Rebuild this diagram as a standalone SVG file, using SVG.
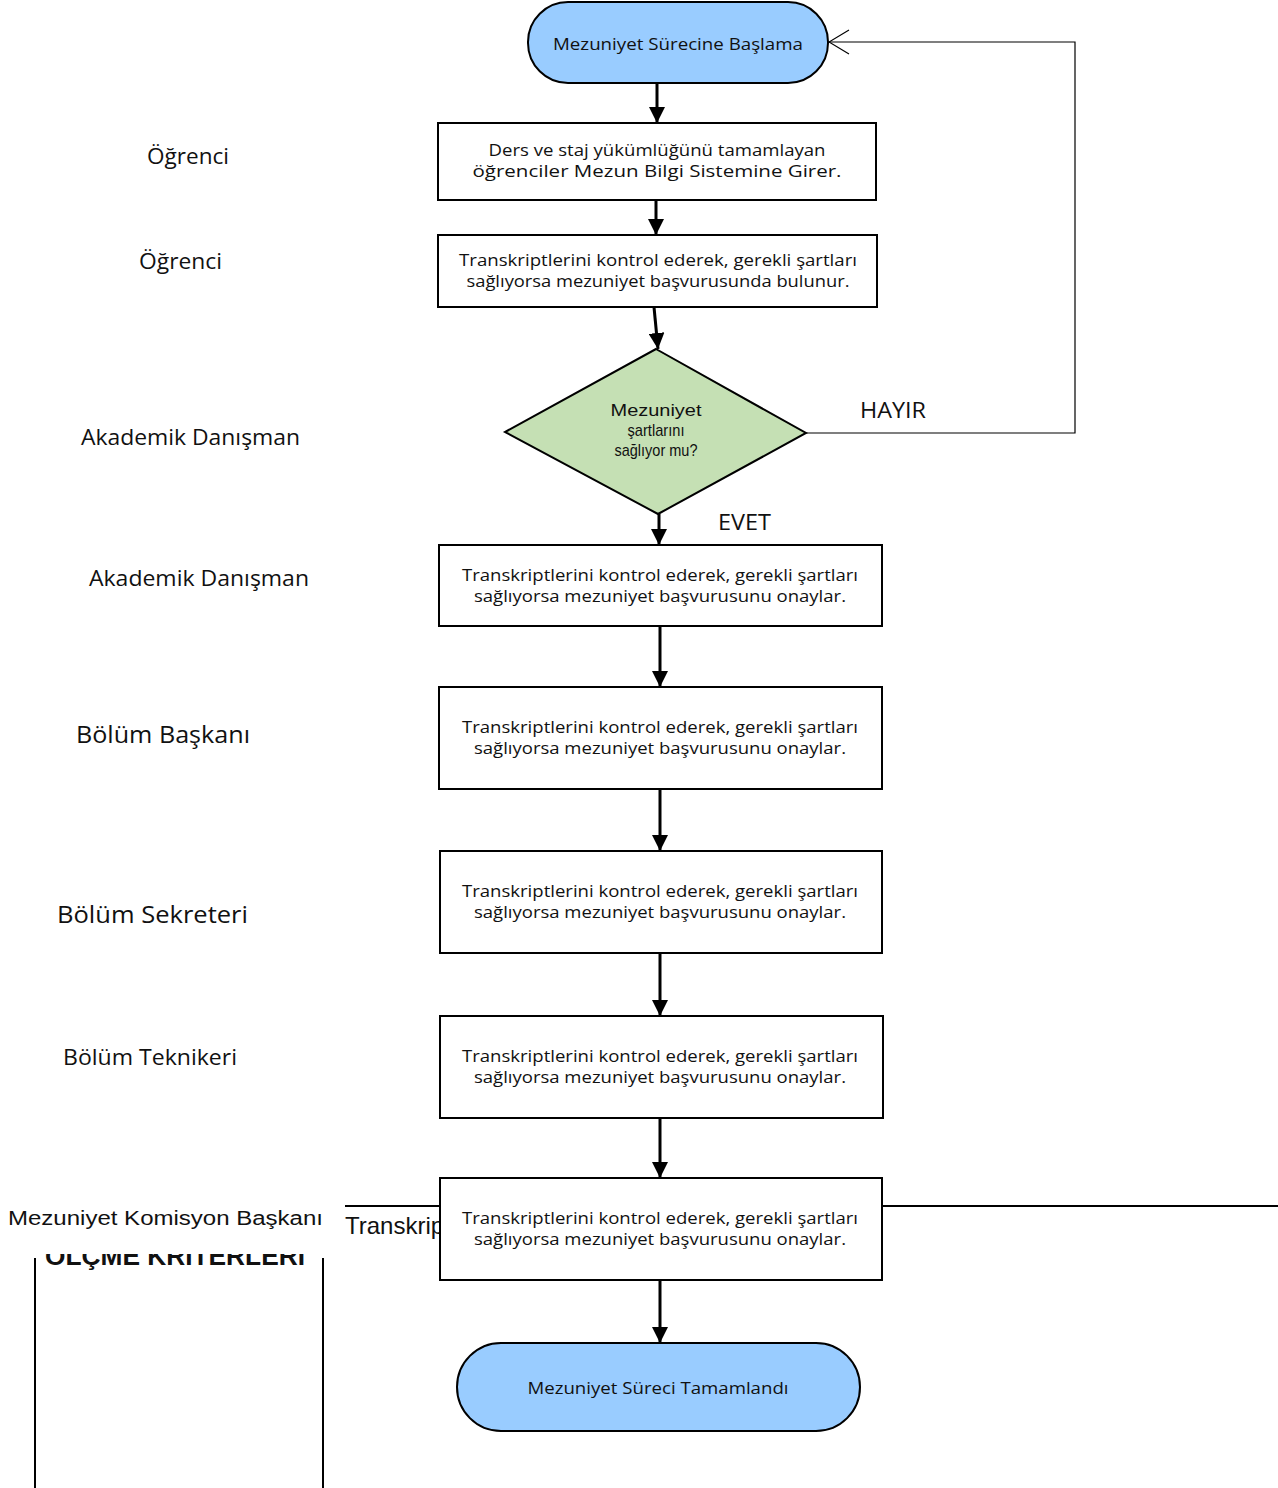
<svg xmlns="http://www.w3.org/2000/svg" width="1278" height="1488" viewBox="0 0 1278 1488">
<style>
.bg{fill:#ffffff}
.term{fill:#99ccff;stroke:#000;stroke-width:2}
.box{fill:#ffffff;stroke:#000;stroke-width:2}
.dia{fill:#c5e0b4;stroke:#000;stroke-width:2}
.t{font-family:"Open Sans","Noto Sans","Liberation Sans",sans-serif;font-size:16px;fill:#111;text-anchor:middle}
.dt{font-family:"Liberation Sans",Arial,sans-serif;font-size:17px;fill:#111;text-anchor:middle}
.lbl{font-family:"Open Sans","Noto Sans","Liberation Sans",sans-serif;font-size:21px;fill:#111}
.ar{font-family:"Liberation Sans",Arial,sans-serif;font-size:20px;fill:#111}
.yn{font-family:"Open Sans","Noto Sans",sans-serif;font-size:21px;fill:#111}
.conn{stroke:#000;stroke-width:3;fill:none}
.thin{stroke:#000;stroke-width:1.2;fill:none}
</style>
<defs>
<marker id="ah" markerUnits="userSpaceOnUse" markerWidth="16" markerHeight="16" viewBox="0 0 16 16" refX="16" refY="8" orient="auto">
<path d="M0,0 L16,8 L0,16 Z" fill="#000"/>
</marker>
<marker id="open" markerUnits="userSpaceOnUse" markerWidth="22" markerHeight="26" viewBox="0 0 22 26" refX="21" refY="13" orient="auto">
<path d="M1,1 L21,13 L1,25" fill="none" stroke="#000" stroke-width="1.2"/>
</marker>
<clipPath id="clipOlc"><rect x="0" y="1254" width="340" height="40"/></clipPath>
<clipPath id="clipTr"><rect x="330" y="1200" width="109" height="50"/></clipPath>
</defs>
<rect class="bg" x="0" y="0" width="1278" height="1488"/>

<g id="background-table">
<line x1="345" y1="1206" x2="440" y2="1206" stroke="#000" stroke-width="2"/>
<line x1="882" y1="1206" x2="1278" y2="1206" stroke="#000" stroke-width="2"/>
<text class="ar" x="345" y="1234" style="font-size:24px" clip-path="url(#clipTr)">Transkrip</text>
<line x1="35" y1="1258" x2="35" y2="1488" stroke="#000" stroke-width="2"/>
<line x1="323" y1="1258" x2="323" y2="1488" stroke="#000" stroke-width="2"/>
<text clip-path="url(#clipOlc)" x="45" y="1265" font-family="Liberation Sans,Arial,sans-serif" font-weight="bold" font-size="26" fill="#111" textLength="260" lengthAdjust="spacingAndGlyphs">ÖLÇME KRİTERLERİ</text>
</g>

<g id="lane-labels">
<text class="lbl" x="147" y="164" textLength="82" lengthAdjust="spacingAndGlyphs">Öğrenci</text>
<text class="lbl" x="139" y="269" textLength="83" lengthAdjust="spacingAndGlyphs">Öğrenci</text>
<text class="lbl" x="81" y="445" textLength="219" lengthAdjust="spacingAndGlyphs">Akademik Danışman</text>
<text class="lbl" x="89" y="586" textLength="220" lengthAdjust="spacingAndGlyphs">Akademik Danışman</text>
<text class="lbl" x="76" y="743" style="font-size:23px" textLength="174" lengthAdjust="spacingAndGlyphs">Bölüm Başkanı</text>
<text class="lbl" x="57" y="923" style="font-size:23px" textLength="191" lengthAdjust="spacingAndGlyphs">Bölüm Sekreteri</text>
<text class="lbl" x="63" y="1065" textLength="174" lengthAdjust="spacingAndGlyphs">Bölüm Teknikeri</text>
<text class="ar" x="8" y="1225" textLength="315" lengthAdjust="spacingAndGlyphs">Mezuniyet Komisyon Başkanı</text>
</g>

<g id="connectors">
<line class="conn" x1="657" y1="84" x2="657" y2="123" marker-end="url(#ah)"/>
<line class="conn" x1="656" y1="200" x2="656" y2="235" marker-end="url(#ah)"/>
<line class="conn" x1="654" y1="307" x2="658" y2="349" marker-end="url(#ah)"/>
<line class="conn" x1="659" y1="514" x2="659" y2="545" marker-end="url(#ah)"/>
<line class="conn" x1="660" y1="626" x2="660" y2="687" marker-end="url(#ah)"/>
<line class="conn" x1="660" y1="789" x2="660" y2="851" marker-end="url(#ah)"/>
<line class="conn" x1="660" y1="953" x2="660" y2="1016" marker-end="url(#ah)"/>
<line class="conn" x1="660" y1="1118" x2="660" y2="1178" marker-end="url(#ah)"/>
<line class="conn" x1="660" y1="1280" x2="660" y2="1343" marker-end="url(#ah)"/>
<polyline class="thin" points="806,433 1075,433 1075,42 829,42" marker-end="url(#open)"/>
<text class="yn" x="860" y="418" textLength="66" lengthAdjust="spacingAndGlyphs">HAYIR</text>
<text class="yn" x="718" y="530" textLength="53" lengthAdjust="spacingAndGlyphs">EVET</text>
</g>

<g id="start">
<rect class="term" x="528" y="2" width="300" height="81" rx="40" ry="40"/>
<text class="t" x="678" y="50" style="font-size:17px" textLength="250" lengthAdjust="spacingAndGlyphs">Mezuniyet Sürecine Başlama</text>
</g>

<g id="step1">
<rect class="box" x="438" y="123" width="438" height="77"/>
<text class="t" x="657" y="156" textLength="337" lengthAdjust="spacingAndGlyphs">Ders ve staj yükümlüğünü tamamlayan</text>
<text class="t" x="657" y="177" textLength="369" lengthAdjust="spacingAndGlyphs">öğrenciler  Mezun Bilgi Sistemine Girer.</text>
</g>

<g id="step2">
<rect class="box" x="438" y="235" width="439" height="72"/>
<text class="t" x="658" y="266" textLength="398" lengthAdjust="spacingAndGlyphs">Transkriptlerini kontrol ederek, gerekli şartları</text>
<text class="t" x="658" y="287" textLength="383" lengthAdjust="spacingAndGlyphs">sağlıyorsa mezuniyet başvurusunda bulunur.</text>
</g>

<g id="decision">
<polygon class="dia" points="656,349 806,433 658,514 505,432"/>
<text class="dt" x="656" y="416" textLength="91" lengthAdjust="spacingAndGlyphs">Mezuniyet</text>
<text class="dt" x="656" y="436" textLength="57" lengthAdjust="spacingAndGlyphs">şartlarını</text>
<text class="dt" x="656" y="456" textLength="83" lengthAdjust="spacingAndGlyphs">sağlıyor mu?</text>
</g>

<g id="step3">
<rect class="box" x="439" y="545" width="443" height="81"/>
<text class="t" x="660" y="581" textLength="396" lengthAdjust="spacingAndGlyphs">Transkriptlerini kontrol ederek, gerekli şartları</text>
<text class="t" x="660" y="602" textLength="372" lengthAdjust="spacingAndGlyphs">sağlıyorsa mezuniyet başvurusunu onaylar.</text>
</g>

<g id="step4">
<rect class="box" x="439" y="687" width="443" height="102"/>
<text class="t" x="660" y="733" textLength="396" lengthAdjust="spacingAndGlyphs">Transkriptlerini kontrol ederek, gerekli şartları</text>
<text class="t" x="660" y="754" textLength="372" lengthAdjust="spacingAndGlyphs">sağlıyorsa mezuniyet başvurusunu onaylar.</text>
</g>

<g id="step5">
<rect class="box" x="440" y="851" width="442" height="102"/>
<text class="t" x="660" y="897" textLength="396" lengthAdjust="spacingAndGlyphs">Transkriptlerini kontrol ederek, gerekli şartları</text>
<text class="t" x="660" y="918" textLength="372" lengthAdjust="spacingAndGlyphs">sağlıyorsa mezuniyet başvurusunu onaylar.</text>
</g>

<g id="step6">
<rect class="box" x="440" y="1016" width="443" height="102"/>
<text class="t" x="660" y="1062" textLength="396" lengthAdjust="spacingAndGlyphs">Transkriptlerini kontrol ederek, gerekli şartları</text>
<text class="t" x="660" y="1083" textLength="372" lengthAdjust="spacingAndGlyphs">sağlıyorsa mezuniyet başvurusunu onaylar.</text>
</g>

<g id="step7">
<rect class="box" x="440" y="1178" width="442" height="102"/>
<text class="t" x="660" y="1224" textLength="396" lengthAdjust="spacingAndGlyphs">Transkriptlerini kontrol ederek, gerekli şartları</text>
<text class="t" x="660" y="1245" textLength="372" lengthAdjust="spacingAndGlyphs">sağlıyorsa mezuniyet başvurusunu onaylar.</text>
</g>

<g id="end">
<rect class="term" x="457" y="1343" width="403" height="88" rx="44" ry="44"/>
<text class="t" x="658" y="1394" style="font-size:17px" textLength="261" lengthAdjust="spacingAndGlyphs">Mezuniyet Süreci Tamamlandı</text>
</g>
</svg>
